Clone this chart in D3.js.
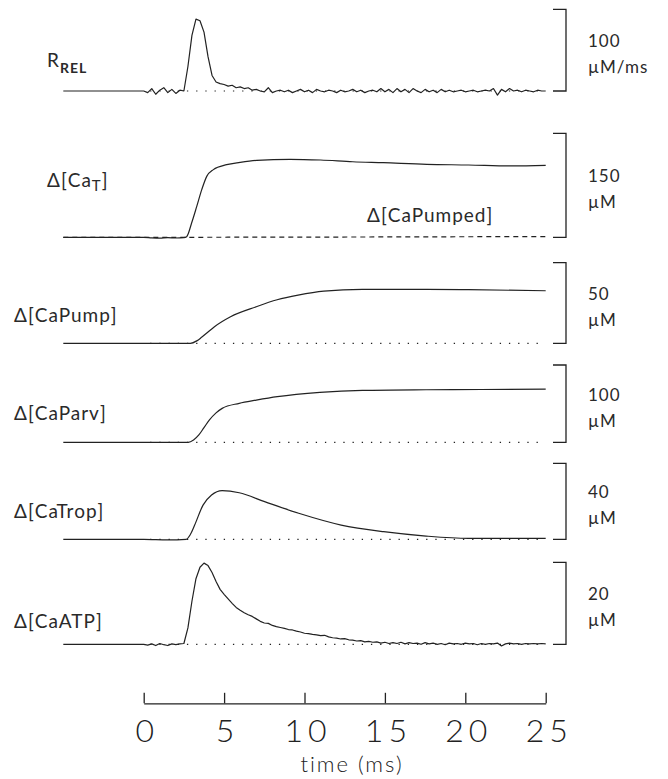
<!DOCTYPE html>
<html>
<head>
<meta charset="utf-8">
<script src="https://cdn.jsdelivr.net/npm/d3@7/dist/d3.min.js"></script>
<style>
  html, body { margin: 0; padding: 0; background: #fff; }
  svg { display: block; }
  text { font-family: Lato, "Open Sans", "DejaVu Sans", sans-serif; font-weight: 400; fill: #2a2a2a; }
</style>
</head>
<body>
<svg id="chart" width="668" height="779"></svg>
<script>
// ---- data -------------------------------------------------------------
const timeDomain = [-5, 25];            // ms
const axisTicks = [0, 5, 10, 15, 20, 25];
const axisTitle = "time (ms)";

// sampled traces: flat pre-stimulus segment at t = -5, then 0.25 ms samples from t = 0
const sampleStart = 0, sampleStep = 0.25;

// Ca release flux (µM/ms)
const rRelValues = [
  0, -2, 3, -4, 1, 4, -2, 2, -3, 1, 0, 30, 68, 88, 86, 72, 42, 19, 11, 9,
  8, 6, 7, 4, 5, 3, 4, 1, 2, 0, -1, 4, -2, 0, 1, -1, 1, -2, 0, 2,
  -1, 1, -2, 2, 0, -1, 1, 0, -2, 1, -1, 0, 2, -1, 1, -2, 0, 1, -1, 3,
  -1, 2, -2, 3, -1, 2, -2, 3, 0, -2, 2, -1, 1, -2, 2, -1, 1, -1, 0, 1,
  -1, 0, 1, -1, 0, 1, 0, 3, -5, 2, -1, 3, 0, 1, -1, 1, 0, -1, 1, 0, 0
];

// Ca bound to ATP (µM)
const caAtpValues = [
  0, -0.2, 0.1, -0.3, 0.2, -0.1, -0.3, 0.1, -0.1, 0.1, 0.2, 4.0, 10.5, 16.0, 18.8, 19.8, 19.2, 17.5, 15.3, 13.4,
  12.2, 11.1, 10.0, 9.0, 8.3, 7.7, 7.2, 6.8, 6.2, 5.6, 5.2, 5.1, 4.6, 4.3, 4.1, 3.9, 3.6, 3.5, 3.2, 3.0,
  2.7, 2.6, 2.4, 2.3, 2.1, 2.2, 1.8, 1.6, 1.5, 1.3, 1.4, 1.1, 1.0, 0.8, 0.9, 0.6, 0.7, 0.5, 0.6, 0.3,
  0.5, 0.2, 0.4, 0.2, 0.5, 0.1, 0.4, 0.2, 0.3, 0.0, 0.4, 0.1, 0.3, 0.0, 0.2, -0.1, 0.3, 0.1, 0.2, 0.0,
  0.3, 0.1, 0.2, -0.1, 0.2, 0.0, 0.2, 0.1, 0.3, -0.4, 0.1, 0.3, 0.1, 0.2, 0.0, 0.2, 0.1, 0.2, 0.1, 0.2, 0.1
];

// smooth traces, (time, value) pairs
const caTotalTime  = [-5, 0, 0.5, 1.0, 1.5, 2.0, 2.5, 2.67, 2.98, 3.30, 3.61, 3.92, 4.33, 5.16, 5.99, 7.03, 9.1, 11, 13, 14.9, 17.6, 20.2, 22.9, 25];
const caTotalValue = [0, 0, -0.8, -1.2, -0.6, -1.0, -0.5, 0.9, 20.6, 44.6, 68.7, 87.9, 97.6, 104.8, 108.1, 111.0, 112.5, 111.5, 109, 107.6, 105.3, 104.3, 102.9, 103.8];

const caPumpedTime  = [-5, 2.5, 5, 10, 15, 20, 25];
const caPumpedValue = [0, 0, 0.1, 0.3, 0.5, 0.8, 1.0];

const caPumpTime  = [-5, 2.9, 3.3, 3.6, 4.0, 4.4, 5.4, 7.0, 8.3, 9.6, 11.2, 13.6, 17.6, 20.2, 25];
const caPumpValue = [0, 0, 1.5, 3.7, 7.0, 10.3, 16.5, 22.7, 27, 29.9, 32.4, 33.5, 33.5, 33.3, 32.6];

const caParvTime  = [-5, 2.77, 3.1, 3.43, 3.75, 4.09, 4.5, 4.88, 5.94, 7.0, 8.31, 10.96, 13.6, 17.56, 21, 25];
const caParvValue = [0, 0, 3, 9.5, 19, 28.9, 38, 43.9, 50.4, 54.5, 59, 64.6, 67.2, 68, 68.3, 68.9];

const caTropTime  = [-5, 0, 1.5, 2.64, 2.9, 3.17, 3.69, 4.22, 4.88, 5.94, 7.52, 9.64, 12.28, 14.92, 17.56, 20.2, 25];
const caTropValue = [0, 0, -0.3, 0, 2.5, 7.5, 18, 23.3, 25.6, 24.5, 19.8, 13.7, 7.5, 4.0, 1.7, 0.5, 0.5];

// scale-bar sizes and their unit labels
const scaleBarValues = [100, 150, 50, 100, 40, 20];
const scaleBarUnits  = ["µM/ms", "µM", "µM", "µM", "µM", "µM"];

// ---- helpers -----------------------------------------------------------
const zipPairs = (ts, vs) => ts.map((t, i) => ({ t, v: vs[i] }));
const sampled = (vs) => [{ t: timeDomain[0], v: 0 }].concat(vs.map((v, i) => ({ t: sampleStart + i * sampleStep, v })));

// panel layout (pixels): baseline and top of each scale bar
const panelBase = [91, 237.3, 343.3, 442.3, 539.3, 644.3];
const panelTop  = [9.3, 133.3, 262.7, 365, 463.3, 562.3];

const panels = [
  { traces: [{ data: sampled(rRelValues), curve: d3.curveLinear }], dotted: true },
  { traces: [
      { data: zipPairs(caPumpedTime, caPumpedValue), curve: d3.curveMonotoneX, dash: "5,4" },
      { data: zipPairs(caTotalTime, caTotalValue), curve: d3.curveMonotoneX }
    ], dotted: false },
  { traces: [{ data: zipPairs(caPumpTime, caPumpValue), curve: d3.curveMonotoneX }], dotted: true },
  { traces: [{ data: zipPairs(caParvTime, caParvValue), curve: d3.curveMonotoneX }], dotted: true },
  { traces: [{ data: zipPairs(caTropTime, caTropValue), curve: d3.curveMonotoneX }], dotted: true },
  { traces: [{ data: sampled(caAtpValues), curve: d3.curveLinear }], dotted: true }
];

// ---- drawing -----------------------------------------------------------
const svg = d3.select("#chart");
const ink = "#222";

const x = d3.scaleLinear().domain(timeDomain).range([63.3, 545.7]);
const barX = 566, barTick = 13;

panels.forEach((p, i) => {
  const y = d3.scaleLinear().domain([0, scaleBarValues[i]]).range([panelBase[i], panelTop[i]]);
  const g = svg.append("g");

  if (p.dotted) {
    g.append("line")
      .attr("x1", x(0.4)).attr("x2", x(25))
      .attr("y1", y(0)).attr("y2", y(0))
      .attr("stroke", ink).attr("stroke-width", 1.2)
      .attr("stroke-dasharray", "1.3,7.9");
  }

  p.traces.forEach(tr => {
    const line = d3.line().x(d => x(d.t)).y(d => y(d.v)).curve(tr.curve);
    g.append("path")
      .datum(tr.data)
      .attr("d", line)
      .attr("fill", "none")
      .attr("stroke", ink)
      .attr("stroke-width", 1.2)
      .attr("stroke-linejoin", "round")
      .attr("stroke-dasharray", tr.dash || null);
  });

  // scale bar bracket
  const y0 = y(0), y1 = y(scaleBarValues[i]);
  g.append("path")
    .attr("d", `M${barX - barTick},${y1}H${barX}V${y0}H${barX - barTick}`)
    .attr("fill", "none").attr("stroke", ink).attr("stroke-width", 1.3);

  const mid = (y0 + y1) / 2;
  g.append("text").attr("x", 588).attr("y", mid - 3)
    .attr("font-size", 17).attr("letter-spacing", 1)
    .text(scaleBarValues[i]);
  g.append("text").attr("x", 588).attr("y", mid + 23)
    .attr("font-size", 17).attr("letter-spacing", 1)
    .text(scaleBarUnits[i]);
});

// trace labels
const lab = svg.append("g").attr("font-size", 19).attr("letter-spacing", 1);

const rrel = lab.append("text").attr("x", 47).attr("y", 67);
rrel.append("tspan").text("R");
rrel.append("tspan").attr("dy", 6).attr("font-size", 14).style("font-weight", 700).text("REL");

const cat = lab.append("text").attr("x", 47).attr("y", 187);
cat.append("tspan").text("Δ[Ca");
cat.append("tspan").attr("dy", 4).attr("font-size", 15).text("T");
cat.append("tspan").attr("dy", -4).text("]");

lab.append("text").attr("x", 367).attr("y", 222).text("Δ[CaPumped]");
lab.append("text").attr("x", 14).attr("y", 322).text("Δ[CaPump]");
lab.append("text").attr("x", 14).attr("y", 420).text("Δ[CaParv]");
lab.append("text").attr("x", 14).attr("y", 518).text("Δ[CaTrop]");
lab.append("text").attr("x", 14).attr("y", 628).text("Δ[CaATP]");

// time axis
const xAxisScale = x.copy().domain([axisTicks[0], axisTicks[axisTicks.length - 1]])
  .range([x(axisTicks[0]), x(axisTicks[axisTicks.length - 1])]);
const axis = svg.append("g")
  .attr("transform", "translate(0,703.3)")
  .call(d3.axisBottom(xAxisScale).tickValues(axisTicks).tickSize(-10.5).tickSizeOuter(0).tickPadding(16));
axis.select(".domain").attr("stroke", ink).attr("stroke-width", 1.3);
axis.selectAll(".tick line").attr("stroke", ink).attr("stroke-width", 1.3);
axis.selectAll(".tick text")
  .style("font-family", "Lato, 'Open Sans', sans-serif")
  .style("font-weight", 300)
  .style("fill", ink)
  .attr("font-size", 32)
  .attr("letter-spacing", 5)
  .attr("dx", 3);

svg.append("text")
  .attr("x", 352).attr("y", 772)
  .attr("text-anchor", "middle")
  .attr("font-size", 22)
  .attr("letter-spacing", 2)
  .style("font-weight", 300)
  .style("fill", ink)
  .text(axisTitle);
</script>
</body>
</html>
